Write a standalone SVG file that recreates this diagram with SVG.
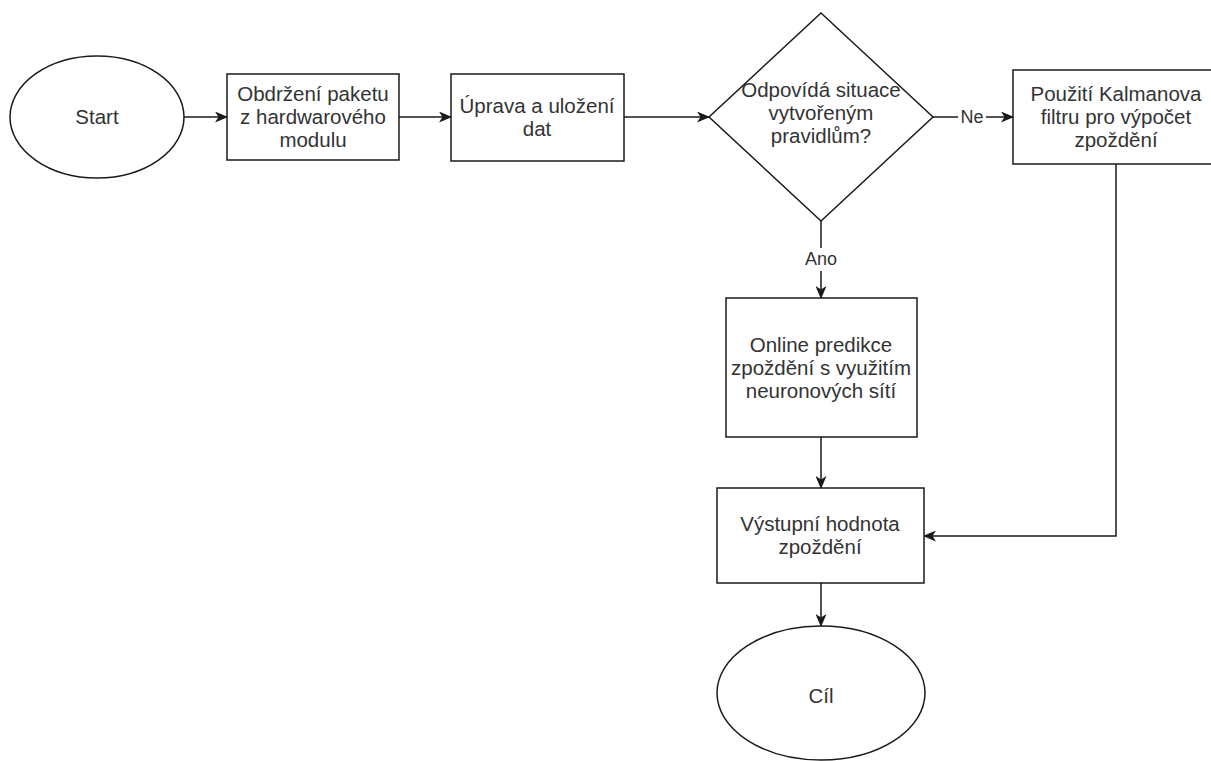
<svg xmlns="http://www.w3.org/2000/svg" width="1211" height="761" viewBox="0 0 1211 761">
  <style>
    .shape { fill: #ffffff; stroke: #1a1a1a; stroke-width: 1.5; }
    .edge { fill: none; stroke: #1a1a1a; stroke-width: 1.5; }
    .label { font-family: "Liberation Sans", Arial, sans-serif; font-size: 20.5px; fill: #333333; text-anchor: middle; }
    .edge-label { font-family: "Liberation Sans", Arial, sans-serif; font-size: 18px; fill: #333333; text-anchor: middle; }
  </style>
  <defs>
    <marker id="arrow" viewBox="0 0 13 11" refX="12" refY="5.5" markerWidth="13" markerHeight="11" markerUnits="userSpaceOnUse" orient="auto">
      <path d="M0,0 L13,5.5 L0,11 L3.5,5.5 Z" fill="#1a1a1a"/>
    </marker>
  </defs>
  <rect width="1211" height="761" fill="#ffffff"/>

  <!-- connectors -->
  <g id="connectors">
    <line class="edge" x1="183" y1="117" x2="227" y2="117" marker-end="url(#arrow)"/>
    <line class="edge" x1="399" y1="117" x2="451" y2="117" marker-end="url(#arrow)"/>
    <line class="edge" x1="624" y1="117" x2="709" y2="117" marker-end="url(#arrow)"/>
    <!-- Ne branch -->
    <line class="edge" x1="933" y1="117" x2="958" y2="117"/>
    <line class="edge" x1="986" y1="117" x2="1013" y2="117" marker-end="url(#arrow)"/>
    <text class="edge-label" x="972" y="123">Ne</text>
    <!-- Ano branch -->
    <line class="edge" x1="821" y1="221" x2="821" y2="248"/>
    <line class="edge" x1="821" y1="271" x2="821" y2="298" marker-end="url(#arrow)"/>
    <text class="edge-label" x="821" y="265">Ano</text>
    <line class="edge" x1="821" y1="437" x2="821" y2="488" marker-end="url(#arrow)"/>
    <polyline class="edge" points="1116,164 1116,536 924,536" marker-end="url(#arrow)"/>
    <line class="edge" x1="821" y1="583" x2="821" y2="626" marker-end="url(#arrow)"/>
  </g>

  <g id="start">
    <ellipse class="shape" cx="97" cy="117" rx="87" ry="61"/>
    <text class="label" x="97" y="124">Start</text>
  </g>

  <g id="receive-packet">
    <rect class="shape" x="227" y="74" width="172" height="86"/>
    <text class="label" x="313" y="101">Obdržení paketu</text>
    <text class="label" x="313" y="124">z hardwarového</text>
    <text class="label" x="313" y="147">modulu</text>
  </g>

  <g id="store-data">
    <rect class="shape" x="451" y="74" width="173" height="87"/>
    <text class="label" x="537" y="113">Úprava a uložení</text>
    <text class="label" x="537" y="136">dat</text>
  </g>

  <g id="rules-decision">
    <polygon class="shape" points="821,13 933,117 821,221 709,117"/>
    <text class="label" x="821" y="97">Odpovídá situace</text>
    <text class="label" x="821" y="120">vytvořeným</text>
    <text class="label" x="821" y="143">pravidlům?</text>
  </g>

  <g id="kalman">
    <rect class="shape" x="1013" y="70" width="208" height="94"/>
    <text class="label" x="1116" y="101">Použití Kalmanova</text>
    <text class="label" x="1116" y="124">filtru pro výpočet</text>
    <text class="label" x="1116" y="147">zpoždění</text>
  </g>

  <g id="neural-prediction">
    <rect class="shape" x="726" y="298" width="191" height="139"/>
    <text class="label" x="821" y="352">Online predikce</text>
    <text class="label" x="821" y="375">zpoždění s využitím</text>
    <text class="label" x="821" y="398">neuronových sítí</text>
  </g>

  <g id="output-value">
    <rect class="shape" x="717" y="488" width="207" height="95"/>
    <text class="label" x="820" y="531">Výstupní hodnota</text>
    <text class="label" x="820" y="554">zpoždění</text>
  </g>

  <g id="goal">
    <ellipse class="shape" cx="821" cy="693" rx="104" ry="67"/>
    <text class="label" x="821" y="703">Cíl</text>
  </g>
</svg>
